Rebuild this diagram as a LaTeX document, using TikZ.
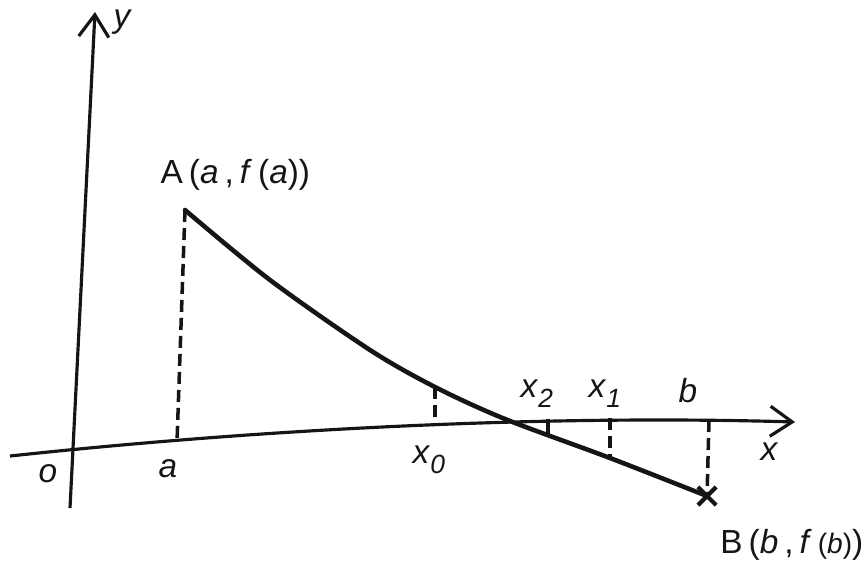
\documentclass[tikz,border=0pt]{standalone}
\usepackage{fontspec}
\setmainfont{Liberation Sans}
\usepackage{amsmath}
\usetikzlibrary{arrows.meta,shapes.misc}
\definecolor{encre}{HTML}{151515}
\tikzset{
  axe/.style={line width=0.9pt, draw=encre,
              -{Straight Barb[length=2.2mm, width=3mm, line width=0.9pt]}},
  courbe/.style={line width=1.3pt, draw=encre, line cap=round},
  pointille/.style={line width=1pt, draw=encre, dash pattern=on 1.2mm off 0.6mm},
  etiq/.style={font=\fontsize{9.5}{11}\selectfont, text=encre, inner sep=0pt, anchor=base west},
}
\newcommand{\bas}[1]{\raisebox{-0.6ex}{\fontsize{7.5}{8}\selectfont\itshape #1}}
\newcommand{\esp}{\hspace{0.18em}}

\begin{document}
\begin{tikzpicture}
        \useasboundingbox (0,0) rectangle (8.67,5.65);
        \coordinate (ybas) at (0.70,0.57);
        \coordinate (yhaut) at (0.95,5.53);
        \coordinate (xgauche) at (0.10,1.09);
        \coordinate (xdroite) at (7.95,1.43);
        \coordinate (A) at (1.85,3.55);
        \coordinate (B) at (7.07,0.69);
        \coordinate (pa) at (1.77,1.23);
        \coordinate (c0) at (4.35,1.78);
        \coordinate (p0) at (4.35,1.42);
        \coordinate (p2) at (5.48,1.46);
        \coordinate (c2) at (5.48,1.30);
        \coordinate (p1) at (6.10,1.47);
        \coordinate (c1) at (6.10,1.07);
        \coordinate (pb) at (7.09,1.45);
        \draw[axe] (ybas) -- (yhaut);
        \draw[axe] (xgauche) .. controls (2.8,1.38) and (5.6,1.50) .. (xdroite);
        \draw[courbe] plot[smooth] coordinates {(A) (2.70,2.85) (3.70,2.15) (c0) (5.05,1.46) (c1) (B)};
        \draw[pointille] (A) -- (pa);
        \draw[pointille] (c0) -- (p0);
        \draw[encre, line width=1pt] (p2) -- (c2);
        \draw[pointille] (p1) -- (c1);
        \draw[pointille] (pb) -- (B);
        \node[cross out, draw=encre, line width=1.2pt, minimum size=1.4mm, inner sep=0pt] (croix) at (B) {};
        \node[etiq] (ly) at (1.13,5.38) {\textit{y}};
        \node[etiq] (lx) at (7.60,1.05) {\textit{x}};
        \node[etiq] (lo) at (0.38,0.83) {\textit{o}};
        \node[etiq] (la) at (1.58,0.88) {\textit{a}};
        \node[etiq] (lx0) at (4.12,1.02) {\textit{x}\bas{0}};
        \node[etiq] (lx2) at (5.20,1.68) {\textit{x}\bas{2}};
        \node[etiq] (lx1) at (5.88,1.68) {\textit{x}\bas{1}};
        \node[etiq] (lb) at (6.78,1.63) {\textit{b}};
        \node[etiq] (lA) at (1.60,3.82) {A\esp(\textit{a}\esp,\esp\textit{f}\esp(\textit{a}))};
        \node[etiq, anchor=base east] (lB) at (8.64,0.12)
          {B\esp(\textit{b}\esp,\esp\textit{f}\esp{\fontsize{8}{9}\selectfont(\textit{b})})};
      \end{tikzpicture}
\end{document}
